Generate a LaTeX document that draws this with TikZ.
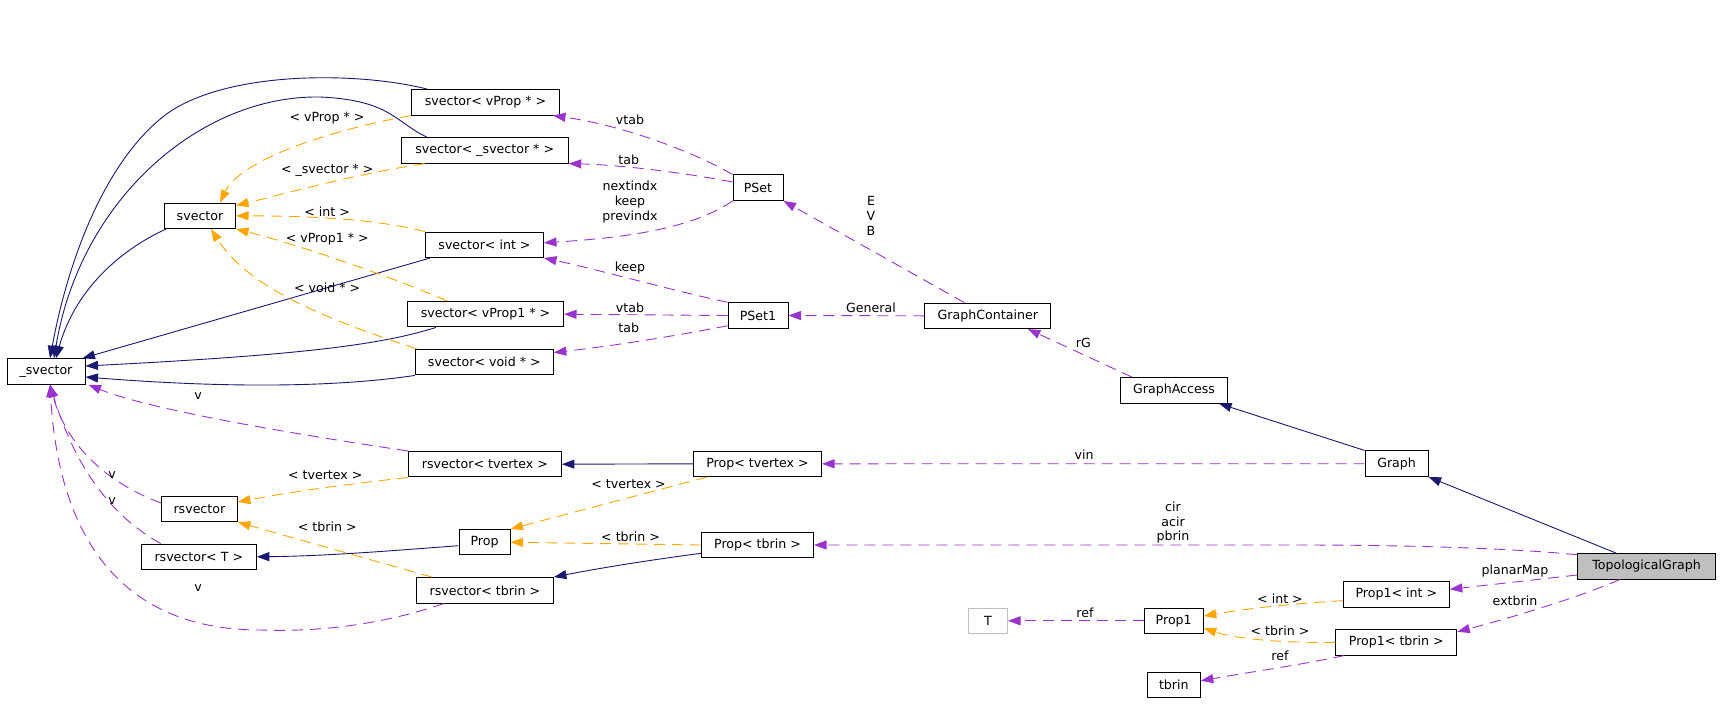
\documentclass[tikz,border=0pt]{standalone}
\usepackage{fontspec}
\setmainfont{DejaVu Sans}
\usetikzlibrary{arrows.meta}
\definecolor{inhblue}{RGB}{25,25,112}
\definecolor{usepurple}{RGB}{154,50,205}
\definecolor{tplorange}{RGB}{255,165,0}
\definecolor{greyb}{RGB}{191,191,191}
\newcommand{\dfont}{\fontsize{12.6}{14.7}\selectfont}
\begin{document}
\begin{tikzpicture}[x=1pt,y=-1pt,
  cls/.style={draw=black,line width=1pt,minimum height=25.5pt,inner sep=0pt,font=\dfont},
  tip/.style={-{Triangle[length=12.5pt,width=9pt]}},
  inh/.style={draw=inhblue,line width=0.9pt,tip},
  use/.style={draw=usepurple,line width=0.9pt,dash pattern=on 11pt off 7pt,tip},
  tpl/.style={draw=tplorange,line width=0.9pt,dash pattern=on 11pt off 7pt,tip},
  lbl/.style={inner sep=0pt,font=\dfont,align=center}]
\useasboundingbox (0,0) rectangle (1720,713);
% classes
\node[cls,minimum width=148pt] (svP) at (485.5,102.3) {svector< vProp * >};
\node[cls,minimum width=167pt] (svS) at (484.7,150.3) {svector< \_svector * >};
\node[cls,minimum width=71pt] (sv) at (200,215.8) {svector};
\node[cls,minimum width=118pt] (svI) at (484.5,244.8) {svector< int >};
\node[cls,minimum width=156pt] (svP1) at (485.5,314.2) {svector< vProp1 * >};
\node[cls,minimum width=138pt] (svV) at (484.3,362.2) {svector< void * >};
\node[cls,minimum width=78pt] (usv) at (46,371.5) {\_svector};
\node[cls,minimum width=50pt] (pset) at (758,187.7) {PSet};
\node[cls,minimum width=60pt] (pset1) at (758,315.5) {PSet1};
\node[cls,minimum width=126pt] (gc) at (987.8,315.8) {GraphContainer};
\node[cls,minimum width=153pt] (rsvT) at (484.9,464.2) {rsvector< tvertex >};
\node[cls,minimum width=76pt] (rsv) at (199.4,509) {rsvector};
\node[cls,minimum width=115pt] (rsvX) at (198.8,556.8) {rsvector< T >};
\node[cls,minimum width=51pt] (prop) at (484.5,542.2) {Prop};
\node[cls,minimum width=137pt] (rsvB) at (484.9,590.3) {rsvector< tbrin >};
\node[cls,minimum width=128pt] (propT) at (757.5,463.8) {Prop< tvertex >};
\node[cls,minimum width=112pt] (propB) at (757.5,545) {Prop< tbrin >};
\node[cls,draw=greyb,minimum width=39pt] (tT) at (988,620.8) {T};
\node[cls,minimum width=59pt] (prop1) at (1173.7,620.8) {Prop1};
\node[cls,minimum width=53pt] (tbrin) at (1173.8,684.8) {tbrin};
\node[cls,minimum width=107pt] (ga) at (1174,390.3) {GraphAccess};
\node[cls,minimum width=63pt] (graph) at (1396.6,463.7) {Graph};
\node[cls,fill=greyb,minimum width=138pt] (tg) at (1646.5,566.3) {TopologicalGraph};
\node[cls,minimum width=106pt] (p1i) at (1396.3,594.3) {Prop1< int >};
\node[cls,minimum width=121pt] (p1b) at (1396.3,642.3) {Prop1< tbrin >};
% inheritance
\draw[inh] ([xshift=16pt]svP.north west) .. controls (360,72) and (230,70) .. (168,113) .. controls (110,155) and (70,250) .. ([xshift=4pt]usv.north);
\draw[inh] ([xshift=26pt]svS.north west) .. controls (395,122) and (390,100) .. (320,97) .. controls (200,95) and (80,200) .. ([xshift=8pt]usv.north);
\draw[inh] ([xshift=2pt]sv.south west) .. controls (120,250) and (75,290) .. ([xshift=10pt]usv.north);
\draw[inh] ([xshift=5pt]svI.south west) -- ([xshift=-3pt]usv.north east);
\draw[inh] ([xshift=29pt]svP1.south west) .. controls (380,345) and (300,355) .. ([yshift=5.5pt]usv.east);
\draw[inh] (svV.south west) .. controls (350,385) and (250,390) .. ([yshift=-5.5pt]usv.east);
\draw[inh] (propT.west) -- (rsvT.east);
\draw[inh] ([yshift=-3.5pt]prop.west) .. controls (400,550) and (330,556) .. (rsvX.east);
\draw[inh] ([yshift=-8.3pt]propB.west) .. controls (650,560) and (600,568) .. (rsvB.north east);
\draw[inh] (graph.north west) -- ([xshift=-9pt]ga.south east);
\draw[inh] ([xshift=39pt]tg.north west) -- (graph.south east);
% usage
\draw[use] (pset.north west) .. controls (690,150) and (620,125) .. ([xshift=-7pt]svP.south east);
\draw[use] ([yshift=5.7pt]pset.west) .. controls (680,172) and (620,165) .. (svS.south east);
\draw[use] (pset.south west) .. controls (690,230) and (620,238) .. ([yshift=2pt]svI.east);
\draw[use] (pset1.north west) .. controls (670,290) and (600,270) .. (svI.south east);
\draw[use] (pset1.west) -- (svP1.east);
\draw[use] ([yshift=3pt]pset1.south west) .. controls (680,335) and (620,345) .. ([yshift=-3.6pt]svV.north east);
\draw[use] (gc.west) -- (pset1.east);
\draw[use] ([xshift=40pt]gc.north west) -- (pset.south east);
\draw[use] ([xshift=12pt]ga.north west) -- ([xshift=40pt]gc.south);
\draw[use] (rsvT.north west) .. controls (300,435) and (150,410) .. ([xshift=3pt]usv.south east);
\draw[use] ([yshift=6pt]rsv.west) .. controls (100,480) and (65,440) .. ([xshift=4pt]usv.south);
\draw[use] ([xshift=20pt]rsvX.north west) .. controls (100,510) and (70,450) .. ([xshift=4pt]usv.south);
\draw[use] ([xshift=28pt]rsvB.south west) .. controls (380,625) and (320,632) .. (260,630) .. controls (140,630) and (60,560) .. ([xshift=4pt]usv.south);
\draw[use] (graph.west) -- (propT.east);
\draw[use] ([yshift=-1.7pt]tg.north west) .. controls (1520,549) and (1420,545) .. (1300,545) -- (propB.east);
\draw[use] ([yshift=-8.7pt]tg.west) -- ([yshift=5pt]p1i.east);
\draw[use] ([xshift=42.7pt]tg.south west) .. controls (1580,597) and (1510,618) .. ([yshift=-2.7pt]p1b.north east);
\draw[use] (prop1.west) -- (tT.east);
\draw[use] ([xshift=9pt]p1b.south west) .. controls (1300,665) and (1250,672) .. ([yshift=4pt]tbrin.east);
% template instances
\draw[tpl] (svP.south west) .. controls (330,130) and (240,160) .. ([xshift=20pt]sv.north);
\draw[tpl] ([xshift=24pt]svS.south west) .. controls (350,175) and (280,195) .. ([yshift=-3pt]sv.north east);
\draw[tpl] (svI.north west) .. controls (380,220) and (320,216) .. (sv.east);
\draw[tpl] ([xshift=40pt]svP1.north west) .. controls (400,280) and (300,245) .. (sv.south east);
\draw[tpl] ([xshift=2pt]svV.north west) .. controls (330,320) and (250,290) .. ([xshift=11pt]sv.south);
\draw[tpl] (rsvT.south west) .. controls (340,485) and (290,492) .. ([yshift=7pt]rsv.east);
\draw[tpl] ([xshift=16pt]rsvB.north west) -- (rsv.south east);
\draw[tpl] ([xshift=14pt]propT.south west) -- (prop.north east);
\draw[tpl] (propB.west) -- (prop.east);
\draw[tpl] ([yshift=-6.4pt]p1i.west) .. controls (1300,603) and (1250,608) .. ([yshift=4.8pt]prop1.east);
\draw[tpl] (p1b.west) .. controls (1290,643) and (1240,640) .. ([yshift=-7.5pt]prop1.east);
% labels
\node[lbl] (l1) at (327,118.3) {< vProp * >};
\node[lbl] (l2) at (327.2,170) {< \_svector * >};
\node[lbl] (l3) at (327.2,211.7) {< int >};
\node[lbl] (l4) at (327.2,239) {< vProp1 * >};
\node[lbl] (l5) at (327.2,287.7) {< void * >};
\node[lbl] (l6) at (630,120) {vtab};
\node[lbl] (l7) at (628.7,159.3) {tab};
\node[lbl] (l8) at (630,202) {nextindx\\keep\\previndx};
\node[lbl] (l9) at (630,267.7) {keep};
\node[lbl] (l10) at (630,307.7) {vtab};
\node[lbl] (l11) at (628.7,327.7) {tab};
\node[lbl] (l12) at (871,307.7) {General};
\node[lbl] (l13) at (871,215.7) {E\\V\\B};
\node[lbl] (l14) at (1083.3,343.3) {rG};
\node[lbl] (l15) at (198.2,395.7) {v};
\node[lbl] (l16) at (112,475) {v};
\node[lbl] (l17) at (112,500.7) {v};
\node[lbl] (l18) at (198,587.7) {v};
\node[lbl] (l19) at (325.3,475) {< tvertex >};
\node[lbl] (l20) at (327.2,526.7) {< tbrin >};
\node[lbl] (l21) at (628.6,484) {< tvertex >};
\node[lbl] (l22) at (630.6,536.7) {< tbrin >};
\node[lbl] (l23) at (1084,455) {vin};
\node[lbl] (l24) at (1173,522.7) {cir\\acir\\pbrin};
\node[lbl] (l25) at (1515,570.7) {planarMap};
\node[lbl] (l26) at (1515,600.7) {extbrin};
\node[lbl] (l27) at (1085,612.7) {ref};
\node[lbl] (l28) at (1280,656) {ref};
\node[lbl] (l29) at (1280,598.7) {< int >};
\node[lbl] (l30) at (1280,630.7) {< tbrin >};
\end{tikzpicture}
\end{document}
